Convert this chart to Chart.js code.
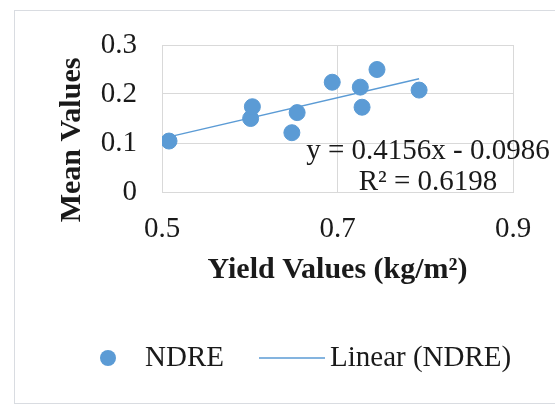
<!DOCTYPE html>
<html>
<head>
<meta charset="utf-8">
<script src="https://cdn.jsdelivr.net/npm/chart.js@4"></script>
<style>
  html, body { margin: 0; padding: 0; background: #fff; }
  #wrap { width: 555px; height: 406px; }
</style>
</head>
<body>
<div id="wrap"><canvas id="chart" width="555" height="406"></canvas></div>
<script>
// yield (kg/m2) vs mean NDRE
const yieldValues = [0.508, 0.601, 0.603, 0.648, 0.654, 0.694, 0.726, 0.728, 0.745, 0.793];
const meanValues  = [0.104, 0.150, 0.174, 0.121, 0.162, 0.224, 0.214, 0.173, 0.250, 0.208];
const xTicks = [0.5, 0.7, 0.9];
const yTicks = [0, 0.1, 0.2, 0.3];
const slope = 0.4156;
const intercept = -0.0986;
const eqLines = ["y = 0.4156x - 0.0986", "R² = 0.6198"];
const yTitle = "Mean Values";

const blue = "#5b9bd5";
const serif = "'Liberation Serif', 'Times New Roman', serif";
const textColor = "#1a1a1a";

const xMin = Math.min(...yieldValues);
const xMax = Math.max(...yieldValues);
const trend = [xMin, xMax].map(x => ({ x: x, y: slope * x + intercept }));

// frame, y title, legend and equation label
const extras = {
    id: "extras",
    beforeDraw(chart) {
        const ctx = chart.ctx;
        ctx.save();
        ctx.fillStyle = "#fff";
        ctx.fillRect(0, 0, chart.width, chart.height);
        ctx.strokeStyle = "#d9dce1";
        ctx.lineWidth = 1;
        ctx.strokeRect(14.5, 10.5, 560, 393);
        ctx.restore();
    },
    afterDraw(chart) {
        const ctx = chart.ctx;
        ctx.save();
        ctx.fillStyle = textColor;
        ctx.textBaseline = "middle";

        // y axis title (Excel centres it a bit lower than the plot)
        ctx.save();
        ctx.translate(72, 140);
        ctx.rotate(-Math.PI / 2);
        ctx.textAlign = "center";
        ctx.font = "bold 30px " + serif;
        ctx.fillText(yTitle, 0, 0);
        ctx.restore();

        ctx.font = "29px " + serif;

        // trendline label
        ctx.textAlign = "center";
        ctx.fillText(eqLines[0], 428, 151);
        ctx.fillText(eqLines[1], 428, 182);

        // legend
        const ly = 358;
        ctx.fillStyle = blue;
        ctx.beginPath();
        ctx.arc(108, ly, 8, 0, Math.PI * 2);
        ctx.fill();
        ctx.fillStyle = textColor;
        ctx.textAlign = "left";
        ctx.fillText(chart.data.datasets[0].label, 145, ly);
        ctx.strokeStyle = blue;
        ctx.lineWidth = 1.5;
        ctx.beginPath();
        ctx.moveTo(259, ly);
        ctx.lineTo(325, ly);
        ctx.stroke();
        ctx.fillText(chart.data.datasets[1].label, 330, ly);
        ctx.restore();
    }
};

new Chart(document.getElementById("chart").getContext("2d"), {
    type: "scatter",
    data: {
        datasets: [{
            label: "NDRE",
            data: yieldValues.map((x, i) => ({ x: x, y: meanValues[i] })),
            backgroundColor: blue,
            borderColor: blue,
            pointRadius: 8,
            pointHoverRadius: 8,
            order: 1
        }, {
            label: "Linear (NDRE)",
            data: trend,
            showLine: true,
            borderColor: blue,
            borderWidth: 1.5,
            pointRadius: 0,
            order: 2
        }]
    },
    options: {
        responsive: false,
        animation: false,
        layout: { padding: { top: 45, right: 42, bottom: 117.6, left: 0 } },
        plugins: { legend: { display: false }, tooltip: { enabled: false } },
        scales: {
            x: {
                type: "linear",
                min: 0.5,
                max: 0.9,
                afterBuildTicks: s => { s.ticks = xTicks.map(v => ({ value: v })); },
                afterFit: s => { s.height = 96.4; },
                grid: { color: "#d9d9d9", drawTicks: false },
                border: { color: "#d9d9d9" },
                ticks: { font: { family: serif, size: 29 }, color: textColor, padding: 20, maxRotation: 0 },
                title: {
                    display: true,
                    text: "Yield Values (kg/m²)",
                    font: { family: serif, size: 30, weight: "bold" },
                    color: textColor,
                    padding: { top: 0, bottom: 0 }
                }
            },
            y: {
                type: "linear",
                min: 0,
                max: 0.3,
                afterBuildTicks: s => { s.ticks = yTicks.map(v => ({ value: v })); },
                afterFit: s => { s.width = 162; },
                grid: { color: "#d9d9d9", drawTicks: false },
                border: { color: "#d9d9d9" },
                ticks: { font: { family: serif, size: 29 }, color: textColor, padding: 25 }
            }
        }
    },
    plugins: [extras]
});
</script>
</body>
</html>
